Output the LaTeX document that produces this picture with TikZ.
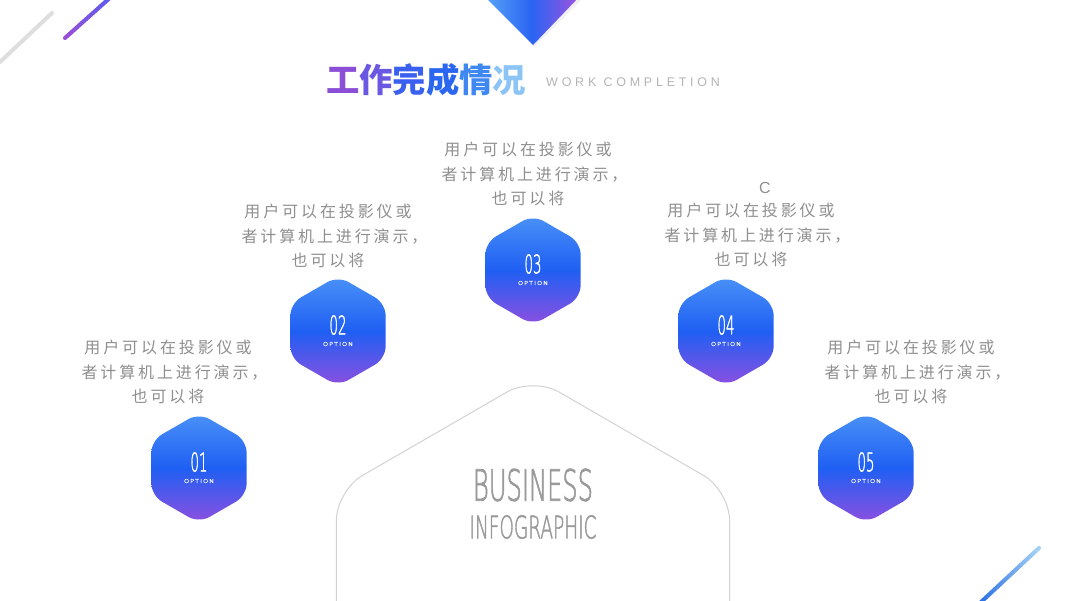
\documentclass[tikz,border=0pt]{standalone}
\usepackage{fontspec}
\usepackage{graphicx}
\usetikzlibrary{shapes.geometric,calc}
\newfontfamily\cjk{Noto Sans CJK SC}
\newfontfamily\cjkbody{Noto Sans CJK SC}[LetterSpace=18]
\newfontfamily\latinsp{Liberation Sans}[LetterSpace=30]
\newfontfamily\latinplain{Liberation Sans}
\IfFontExistsTF{DejaVu Sans ExtraLight}
  {\newfontfamily\thinfont{DejaVu Sans ExtraLight}[FakeBold=2]}
  {\newfontfamily\thinfont{Liberation Sans}}
\definecolor{bodygray}{HTML}{8F8F8F}
\definecolor{subgray}{HTML}{B4B4B4}
\definecolor{biggray}{HTML}{9A9A9A}
\definecolor{outline}{HTML}{D2D2D2}
\definecolor{hexTop}{HTML}{4A92F7}
\definecolor{hexMid}{HTML}{1F5FF3}
\definecolor{hexBot}{HTML}{8E4FE0}
\definecolor{dL}{HTML}{5AA6F8}
\definecolor{dM}{HTML}{2A64F2}
\definecolor{dR}{HTML}{A552DE}
\definecolor{tA}{HTML}{8A4FD6}
\definecolor{tB}{HTML}{6A58E2}
\definecolor{tC}{HTML}{3A60F0}
\definecolor{tD}{HTML}{2A66F0}
\definecolor{tE}{HTML}{3F88F2}
\definecolor{tF}{HTML}{8CC4F6}
\definecolor{lineP}{HTML}{9A4FD8}
\definecolor{lineB}{HTML}{5A5CF0}
\definecolor{lineG}{HTML}{DEDEDE}
\definecolor{lineD}{HTML}{2A70E6}
\definecolor{lineL}{HTML}{A8D4F6}
\newcommand\bodylines{用户可以在投影仪或\\者计算机上进行演示，\kern-13pt\\也可以将}
\begin{document}
\begin{tikzpicture}[x=1pt,y=-1pt,
  hexa/.style={regular polygon, regular polygon sides=6, shape border rotate=30, minimum size=110pt,
    inner sep=0pt, rounded corners=12pt, top color=hexTop, bottom color=hexBot, middle color=hexMid},
  numtxt/.style={inner sep=0pt, text=white, font=\thinfont},
  opttxt/.style={inner sep=0pt, text=white, font=\thinfont},
  bodytxt/.style={align=center, inner sep=0pt, text=bodygray, font=\cjkbody\fontsize{16}{24.5}\selectfont},
  bigtxt/.style={inner sep=0pt, text=biggray, font=\thinfont}
]
\useasboundingbox (0,0) rectangle (1067,600);
\fill[white] (0,0) rectangle (1067,600);

% decorative lines
\draw[lineG, line width=4pt, line cap=round] (0,62) -- (52,13);
\coordinate (pa) at (65,38);
\coordinate (pb) at (112,-4);
\foreach \i in {0,...,19}{
  \pgfmathsetmacro\ta{\i/20}
  \pgfmathsetmacro\tb{(\i+1)/20}
  \pgfmathsetmacro\pc{100-\i*5}
  \draw[color=lineP!\pc!lineB, line width=4pt, line cap=round] ($(pa)!\ta!(pb)$) -- ($(pa)!\tb!(pb)$);
}
\coordinate (qa) at (980,603);
\coordinate (qb) at (1039,548);
\foreach \i in {0,...,19}{
  \pgfmathsetmacro\ta{\i/20}
  \pgfmathsetmacro\tb{(\i+1)/20}
  \pgfmathsetmacro\pc{100-\i*5}
  \draw[color=lineD!\pc!lineL, line width=4pt, line cap=round] ($(qa)!\ta!(qb)$) -- ($(qa)!\tb!(qb)$);
}

% top diamond
\fill[black!6] (486,-3) -- (534,47) -- (584,-3) -- cycle;
\shade[left color=dL, right color=dR, middle color=dM] (483,-5) -- (533,45) -- (581,-5) -- (533,-55) -- cycle;

% title
\node[anchor=west, inner sep=0pt] (title) at (326,80)
  {\cjk\bfseries\fontsize{33.3}{33.3}\selectfont\textcolor{tA}{工}\textcolor{tB}{作}\textcolor{tC}{完}\textcolor{tD}{成}\textcolor{tE}{情}\textcolor{tF}{况}};
\node[anchor=west, inner sep=0pt, text=subgray] (sub) at (546,82)
  {\latinsp\fontsize{12.5}{12.5}\selectfont WORK COMPLETION};

% central outline
\draw[outline, line width=1pt, rounded corners=30pt]
  (336.4,610) -- (336.4,490.5) -- (533,377) -- (729.6,490.5) -- (729.6,610);
\node[bigtxt] (biz) at (533,485) {\resizebox{120pt}{32pt}{BUSINESS}};
\node[bigtxt] (info) at (533,527) {\resizebox{127pt}{23pt}{INFOGRAPHIC}};

% hexagons
\node[hexa] (h1) at (199,468) {};
\node[hexa] (h2) at (338,331) {};
\node[hexa] (h3) at (533,270) {};
\node[hexa] (h4) at (726,331) {};
\node[hexa] (h5) at (866,468) {};

\node[numtxt] (n1) at (199,462) {\resizebox{17pt}{19pt}{01}};
\node[opttxt] (o1) at (199,481) {\resizebox{30pt}{4pt}{O\,P\,T\,I\,O\,N}};
\node[numtxt] (n2) at (338,325) {\resizebox{17pt}{19pt}{02}};
\node[opttxt] (o2) at (338,344) {\resizebox{30pt}{4pt}{O\,P\,T\,I\,O\,N}};
\node[numtxt] (n3) at (533,264) {\resizebox{17pt}{19pt}{03}};
\node[opttxt] (o3) at (533,283) {\resizebox{30pt}{4pt}{O\,P\,T\,I\,O\,N}};
\node[numtxt] (n4) at (726,325) {\resizebox{17pt}{19pt}{04}};
\node[opttxt] (o4) at (726,344) {\resizebox{30pt}{4pt}{O\,P\,T\,I\,O\,N}};
\node[numtxt] (n5) at (866,462) {\resizebox{17pt}{19pt}{05}};
\node[opttxt] (o5) at (866,481) {\resizebox{30pt}{4pt}{O\,P\,T\,I\,O\,N}};

% body texts
\node[bodytxt] (t1) at (168,372) {\bodylines};
\node[bodytxt] (t2) at (328,236) {\bodylines};
\node[bodytxt] (t3) at (528,174) {\bodylines};
\node[bodytxt] (t4) at (751,235) {\bodylines};
\node[bodytxt] (t5) at (911,372) {\bodylines};
\node[inner sep=0pt, text=bodygray, font=\latinplain\fontsize{16}{16}\selectfont] (c4) at (765,188) {C};
\end{tikzpicture}
\end{document}
